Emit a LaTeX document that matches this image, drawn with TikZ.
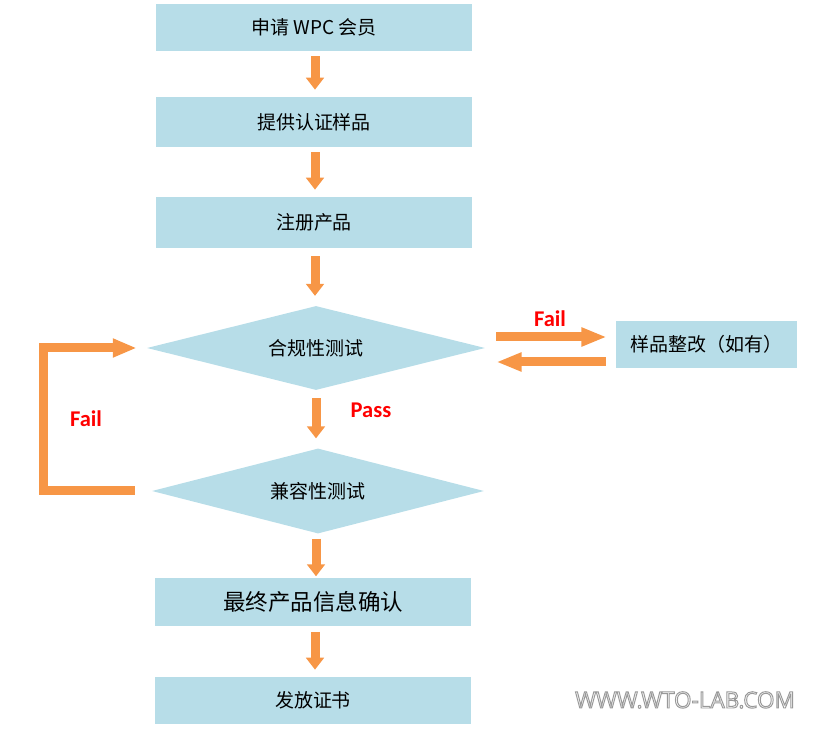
\documentclass[tikz,border=0pt]{standalone}
\usepackage{fontspec}
\usepackage{xcolor}
\usetikzlibrary{shapes.geometric, arrows.meta, positioning, calc}
\newfontfamily\cjk{Noto Sans CJK SC}
\newfontfamily\calib{Carlito}
\newfontfamily\webfont{Open Sans}
\definecolor{boxblue}{RGB}{183,221,232}
\definecolor{floworange}{RGB}{247,150,70}
\definecolor{failred}{RGB}{255,0,0}
\tikzset{
    stepbox/.style={rectangle, fill=boxblue, minimum width=7.875cm, minimum height=1.2cm, align=center, font=\cjk\fontsize{13.5}{16}\selectfont},
    testdia/.style={diamond, aspect=4, fill=boxblue, inner sep=0pt, minimum width=8.45cm, minimum height=2.1cm, font=\cjk\fontsize{13.5}{16}\selectfont},
    vflow/.style={draw=floworange, line width=6.4pt, -{Triangle[length=8.5pt, width=12.5pt]}, shorten <=3.5pt, shorten >=5pt},
    hflow/.style={draw=floworange, line width=6.4pt, -{Triangle[length=18pt, width=12.5pt]}},
    flowlabel/.style={font=\calib\bfseries\fontsize{16}{18}\selectfont, text=failred}
}
% white letters with a grey rim
\newcommand{\rimtext}[1]{\special{pdf:code q 2 Tr 0.7 w 0.6 0.6 0.6 RG}#1\special{pdf:code Q}}

\begin{document}
\begin{tikzpicture}[x=0.025cm, y=-0.025cm]
\useasboundingbox (0,0) rectangle (816,734);

% main column
\node[stepbox, minimum height=1.175cm] (join) at (314,27.5) {申请 WPC 会员};
\node[stepbox, minimum height=1.25cm] (sample) at (314,122) {提供认证样品};
\node[stepbox, minimum height=1.275cm] (register) at (314,222.5) {注册产品};
\node[testdia] (comply) at (316,348) {合规性测试};
\node[testdia, minimum width=8.3cm, minimum height=2.125cm] (compat) at (318,491) {兼容性测试};
\node[stepbox, font=\cjk\fontsize{16}{19}\selectfont] (confirm) at (313,602) {最终产品信息确认};
\node[stepbox, minimum height=1.175cm] (issue) at (313,700.5) {发放证书};

% side box
\node[stepbox, minimum width=4.525cm, minimum height=1.175cm] (rework) at (706.5,344.5) {样品整改（如有）};

% arrows down
\draw[vflow] (join.south -| 315,0) -- (sample.north -| 315,0);
\draw[vflow] (sample.south -| 315,0) -- (register.north -| 315,0);
\draw[vflow, shorten <=5.5pt, shorten >=7pt] (register.south -| 315,0) -- (comply.north -| 315,0);
\draw[vflow, shorten <=5.5pt, shorten >=7pt] (comply.south -| 316,0) -- (compat.north -| 316,0);
\draw[vflow, shorten <=3.5pt, shorten >=1pt] (compat.south -| 316,0) -- (confirm.north -| 316,0);
\draw[vflow, shorten <=4pt, shorten >=5pt] (confirm.south -| 315,0) -- (issue.north -| 315,0);

% rework loop
\coordinate (toright) at ($(comply.east)+(11,-11)$);
\coordinate (toleft) at ($(comply.east)+(11,14)$);
\draw[hflow, shorten >=6.4pt] (toright) -- (toright -| rework.west);
\draw[hflow, shorten <=7pt] (toleft -| rework.west) -- (toleft);
\node[flowlabel] (failright) at (550,319) {Fail};

% fail loop back
\coordinate (loopstart) at ($(compat.west)+(-17,0)$);
\coordinate (loopcorner) at ($(comply.west)+(-103,0)$);
\draw[hflow, line join=miter, -{Triangle[length=17pt, width=12.5pt]}] (loopstart) -| (loopcorner) -- ($(comply.west)+(-10,0)$);
\node[flowlabel] (failleft) at (86,419) {Fail};
\node[flowlabel] (pass) at (371,410) {Pass};

% watermark
\node[font=\webfont\fontsize{16}{18}\selectfont, text=white] (mark) at (685,700) {\rimtext{WWW.WTO-LAB.COM}};

\end{tikzpicture}
\end{document}
